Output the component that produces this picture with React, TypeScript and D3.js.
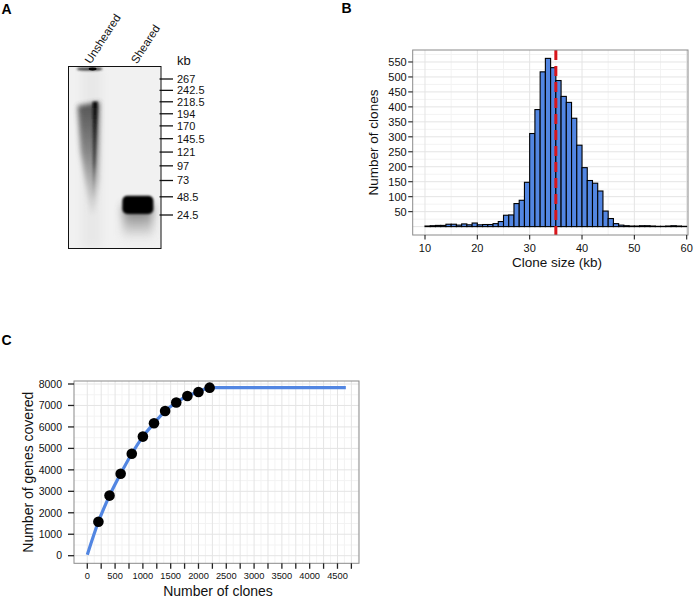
import * as d3 from "d3";

const FONT = "'Liberation Sans', Arial, Helvetica, sans-serif";

// A: gel
const LANES = ["Unsheared", "Sheared"];
const LADDER_KB = [267, 242.5, 218.5, 194, 170, 145.5, 121, 97, 73, 48.5, 24.5];

// B: clone size histogram (1 kb bins)
const BIN_START = d3.range(10, 60);
const BIN_COUNT = [
  2, 3, 4, 4, 8, 8, 5, 9, 6, 12,
  6, 7, 7, 10, 17, 38, 39, 77, 88, 148,
  311, 391, 517, 562, 531, 488, 435, 415, 362, 272,
  197, 154, 145, 119, 52, 27, 10, 5, 3, 2,
  2, 3, 3, 2, 1, 1, 2, 3, 2, 1,
];
const MEDIAN_KB = 35;
const B_YTICKS = d3.range(50, 551, 50);
const B_XTICKS = [10, 20, 30, 40, 50, 60];

// C: gene coverage
const POINT_CLONES = [200, 400, 600, 800, 1000, 1200, 1400, 1600, 1800, 2000, 2200];
const POINT_GENES = [1580, 2800, 3820, 4750, 5550, 6170, 6740, 7140, 7440, 7630, 7830];
const CURVE_CLONES = [0, 200, 400, 600, 800, 1000, 1200, 1400, 1600, 1800, 2000, 2200, 4650];
const CURVE_GENES = [40, 1580, 2800, 3820, 4750, 5550, 6170, 6740, 7140, 7440, 7630, 7830, 7830];
const C_YTICKS = d3.range(0, 8001, 1000);
const C_XTICKS = d3.range(0, 4751, 250);

const GRID_MAJOR = "#e4e4e4";
const GRID_MINOR = "#f3f3f3";
const BORDER = "#8a8a8a";
const BLUE = "#5286e2";

function Gel() {
  const box = { x0: 68.5, x1: 161, y0: 66.5, y1: 248.5 };
  const lane = d3.scalePoint<string>().domain(LANES).range([box.x0, box.x1]).padding(0.5);
  const y = d3.scalePow().exponent(0.75).domain([24.5, 267]).range([215, 79]);
  const u = lane("Unsheared")!;
  const s = lane("Sheared")!;
  return (
    <g fontFamily={FONT}>
      <defs>
        <filter id="b1" x="-50%" y="-50%" width="200%" height="200%"><feGaussianBlur stdDeviation="1.2" /></filter>
        <filter id="b2" x="-50%" y="-50%" width="200%" height="200%"><feGaussianBlur stdDeviation="2.5" /></filter>
        <filter id="b4" x="-50%" y="-50%" width="200%" height="200%"><feGaussianBlur stdDeviation="4" /></filter>
        <linearGradient id="smear" x1="0" y1="0" x2="0" y2="1">
          <stop offset="0" stopColor="#3a3a3a" />
          <stop offset="0.45" stopColor="#777" />
          <stop offset="1" stopColor="#e0e0e0" />
        </linearGradient>
        <linearGradient id="core" x1="0" y1="0" x2="0" y2="1">
          <stop offset="0" stopColor="#0a0a0a" />
          <stop offset="0.6" stopColor="#555" />
          <stop offset="1" stopColor="#ddd" />
        </linearGradient>
        <linearGradient id="tail" x1="0" y1="0" x2="0" y2="1">
          <stop offset="0" stopColor="#333" />
          <stop offset="1" stopColor="#eee" />
        </linearGradient>
        <clipPath id="gelclip"><rect x={box.x0} y={box.y0} width={box.x1 - box.x0} height={box.y1 - box.y0} /></clipPath>
      </defs>
      <rect x={box.x0} y={box.y0} width={box.x1 - box.x0} height={box.y1 - box.y0} fill="#f1f1f1" />
      <g clipPath="url(#gelclip)">
        <rect x={u - 10} y={box.y0} width={20} height={box.y1 - box.y0} fill="#e8e8e8" filter="url(#b4)" />
        <ellipse cx={u - 2} cy={box.y0 + 2.5} rx={13} ry={1.6} fill="#333" filter="url(#b1)" />
        <ellipse cx={u + 1} cy={box.y0 + 2.5} rx={4} ry={1.4} fill="#000" />
        <path
          d={`M${u - 14},${y(218.5) + 4} L${u + 8},${y(218.5)} L${u + 7},${y(73)} L${u + 3},${y(26)} L${u - 1},${y(26)} L${u - 11},${y(121)} Z`}
          fill="url(#smear)" opacity={0.85} filter="url(#b2)" />
        <path
          d={`M${u + 1},${y(218.5)} L${u + 6},${y(218.5)} L${u + 4},${y(97)} L${u + 2},${y(40)} L${u + 1},${y(40)} Z`}
          fill="url(#core)" filter="url(#b1)" />
        <rect x={s - 15} y={y(48.5) + 8} width={30} height={y(24.5) - y(48.5) + 16} fill="url(#tail)" opacity={0.7} filter="url(#b4)" />
        <rect x={s - 15.5} y={y(48.5) - 1} width={31} height={y(24.5) - y(48.5)} rx={5} fill="#050505" filter="url(#b1)" />
      </g>
      <rect x={box.x0} y={box.y0} width={box.x1 - box.x0} height={box.y1 - box.y0} fill="none" stroke="#111" strokeWidth={1} />
      {LANES.map((l) => (
        <text key={l} transform={`translate(${lane(l)! - 1},${box.y0 - 2}) rotate(-57)`} fontSize={11.5} fill="#111">{l}</text>
      ))}
      <text x={177} y={65} fontSize={13} fill="#111">kb</text>
      {LADDER_KB.map((k) => (
        <g key={k} transform={`translate(0,${y(k)})`}>
          <line x1={159.5} x2={173} stroke="#111" strokeWidth={1.3} />
          <text x={177} dy="0.36em" fontSize={11} fill="#111">{k}</text>
        </g>
      ))}
    </g>
  );
}

function Histogram() {
  const p = { l: 412.7, r: 688, t: 50, b: 235 };
  const x = d3.scaleLinear().domain([7.65, 60.25]).range([p.l, p.r]);
  const y = d3.scaleLinear().domain([-28, 590]).range([p.b, p.t]);
  const minorY = d3.range(25, 590, 50);
  const minorX = d3.range(15, 60, 10);
  return (
    <g fontFamily={FONT}>
      <rect x={p.l} y={p.t} width={p.r - p.l} height={p.b - p.t} fill="#fff" />
      {minorY.map((v) => <line key={"my" + v} x1={p.l} x2={p.r} y1={y(v)} y2={y(v)} stroke={GRID_MINOR} />)}
      {minorX.map((v) => <line key={"mx" + v} x1={x(v)} x2={x(v)} y1={p.t} y2={p.b} stroke={GRID_MINOR} />)}
      {[0, ...B_YTICKS].map((v) => <line key={"gy" + v} x1={p.l} x2={p.r} y1={y(v)} y2={y(v)} stroke={GRID_MAJOR} />)}
      {B_XTICKS.map((v) => <line key={"gx" + v} x1={x(v)} x2={x(v)} y1={p.t} y2={p.b} stroke={GRID_MAJOR} />)}
      {BIN_START.map((b, i) => (
        <rect key={b} x={x(b)} y={y(BIN_COUNT[i])} width={x(b + 1) - x(b)} height={y(0) - y(BIN_COUNT[i])}
          fill={BLUE} stroke="#000" strokeWidth={1.1} />
      ))}
      <line x1={x(MEDIAN_KB)} x2={x(MEDIAN_KB)} y1={p.t} y2={p.b} stroke="#d8151b" strokeWidth={3} strokeDasharray="10,6" />
      <rect x={p.l} y={p.t} width={p.r - p.l} height={p.b - p.t} fill="none" stroke={BORDER} strokeWidth={1} />
      {B_YTICKS.map((v) => (
        <g key={v}>
          <line x1={p.l - 4.5} x2={p.l} y1={y(v)} y2={y(v)} stroke="#222" strokeWidth={1.1} />
          <text x={p.l - 6} y={y(v)} dy="0.36em" textAnchor="end" fontSize={11} fill="#111">{v}</text>
        </g>
      ))}
      {B_XTICKS.map((v) => (
        <g key={v}>
          <line x1={x(v)} x2={x(v)} y1={p.b} y2={p.b + 4.5} stroke="#222" strokeWidth={1.1} />
          <text x={x(v)} y={p.b + 17} textAnchor="middle" fontSize={11} fill="#111">{v}</text>
        </g>
      ))}
      <text x={557} y={267} textAnchor="middle" fontSize={13.5} fill="#111">Clone size (kb)</text>
      <text transform={`translate(378,${(p.t + p.b) / 2}) rotate(-90)`} textAnchor="middle" fontSize={13.5} fill="#111">Number of clones</text>
    </g>
  );
}

function Coverage() {
  const p = { l: 74, r: 359, t: 381, b: 563.3 };
  const x = d3.scaleLinear().domain([-239, 4887]).range([p.l, p.r]);
  const y = d3.scaleLinear().domain([-354, 8140]).range([p.b, p.t]);
  const minorX = d3.range(125, 4887, 250);
  const minorY = d3.range(500, 8140, 1000);
  const line = d3.line<number>()
    .x((_, i) => x(CURVE_CLONES[i]))
    .y((g) => y(g))
    .curve(d3.curveMonotoneX);
  return (
    <g fontFamily={FONT}>
      <rect x={p.l} y={p.t} width={p.r - p.l} height={p.b - p.t} fill="#fff" />
      {minorY.map((v) => <line key={"my" + v} x1={p.l} x2={p.r} y1={y(v)} y2={y(v)} stroke={GRID_MINOR} />)}
      {minorX.map((v) => <line key={"mx" + v} x1={x(v)} x2={x(v)} y1={p.t} y2={p.b} stroke={GRID_MINOR} />)}
      {C_YTICKS.map((v) => <line key={"gy" + v} x1={p.l} x2={p.r} y1={y(v)} y2={y(v)} stroke={GRID_MAJOR} />)}
      {C_XTICKS.map((v) => <line key={"gx" + v} x1={x(v)} x2={x(v)} y1={p.t} y2={p.b} stroke={GRID_MAJOR} />)}
      <path d={line(CURVE_GENES) ?? ""} fill="none" stroke={BLUE} strokeWidth={3.2} strokeLinecap="butt" />
      {POINT_CLONES.map((c, i) => (
        <circle key={c} cx={x(c)} cy={y(POINT_GENES[i])} r={5.3} fill="#000" />
      ))}
      <rect x={p.l} y={p.t} width={p.r - p.l} height={p.b - p.t} fill="none" stroke={BORDER} strokeWidth={1} />
      {C_YTICKS.map((v) => (
        <g key={v}>
          <line x1={p.l - 6} x2={p.l} y1={y(v)} y2={y(v)} stroke="#222" strokeWidth={1.3} />
          <text x={p.l - 12} y={y(v)} dy="0.36em" textAnchor="end" fontSize={10.5} fill="#111">{v}</text>
        </g>
      ))}
      {C_XTICKS.map((v) => (
        <g key={v}>
          <line x1={x(v)} x2={x(v)} y1={p.b} y2={p.b + 5.5} stroke="#222" strokeWidth={1.3} />
          {v % 500 === 0 && (
            <text x={x(v)} y={p.b + 15.5} textAnchor="middle" fontSize={9.3} fill="#111">{v}</text>
          )}
        </g>
      ))}
      <text x={218} y={596} textAnchor="middle" fontSize={14} fill="#111">Number of clones</text>
      <text transform={`translate(33,${(p.t + p.b) / 2}) rotate(-90)`} textAnchor="middle" fontSize={14} fill="#111">Number of genes covered</text>
    </g>
  );
}

export default function App() {
  return (
    <svg width={700} height={597} style={{ position: "absolute", left: 0, top: 0, background: "#fff" }}>
      <rect width={700} height={597} fill="#fff" />
      <text x={1.5} y={13.5} fontFamily={FONT} fontWeight="bold" fontSize={14}>A</text>
      <text x={341.5} y={13} fontFamily={FONT} fontWeight="bold" fontSize={14}>B</text>
      <text x={1.5} y={345} fontFamily={FONT} fontWeight="bold" fontSize={14}>C</text>
      <Gel />
      <Histogram />
      <Coverage />
    </svg>
  );
}
